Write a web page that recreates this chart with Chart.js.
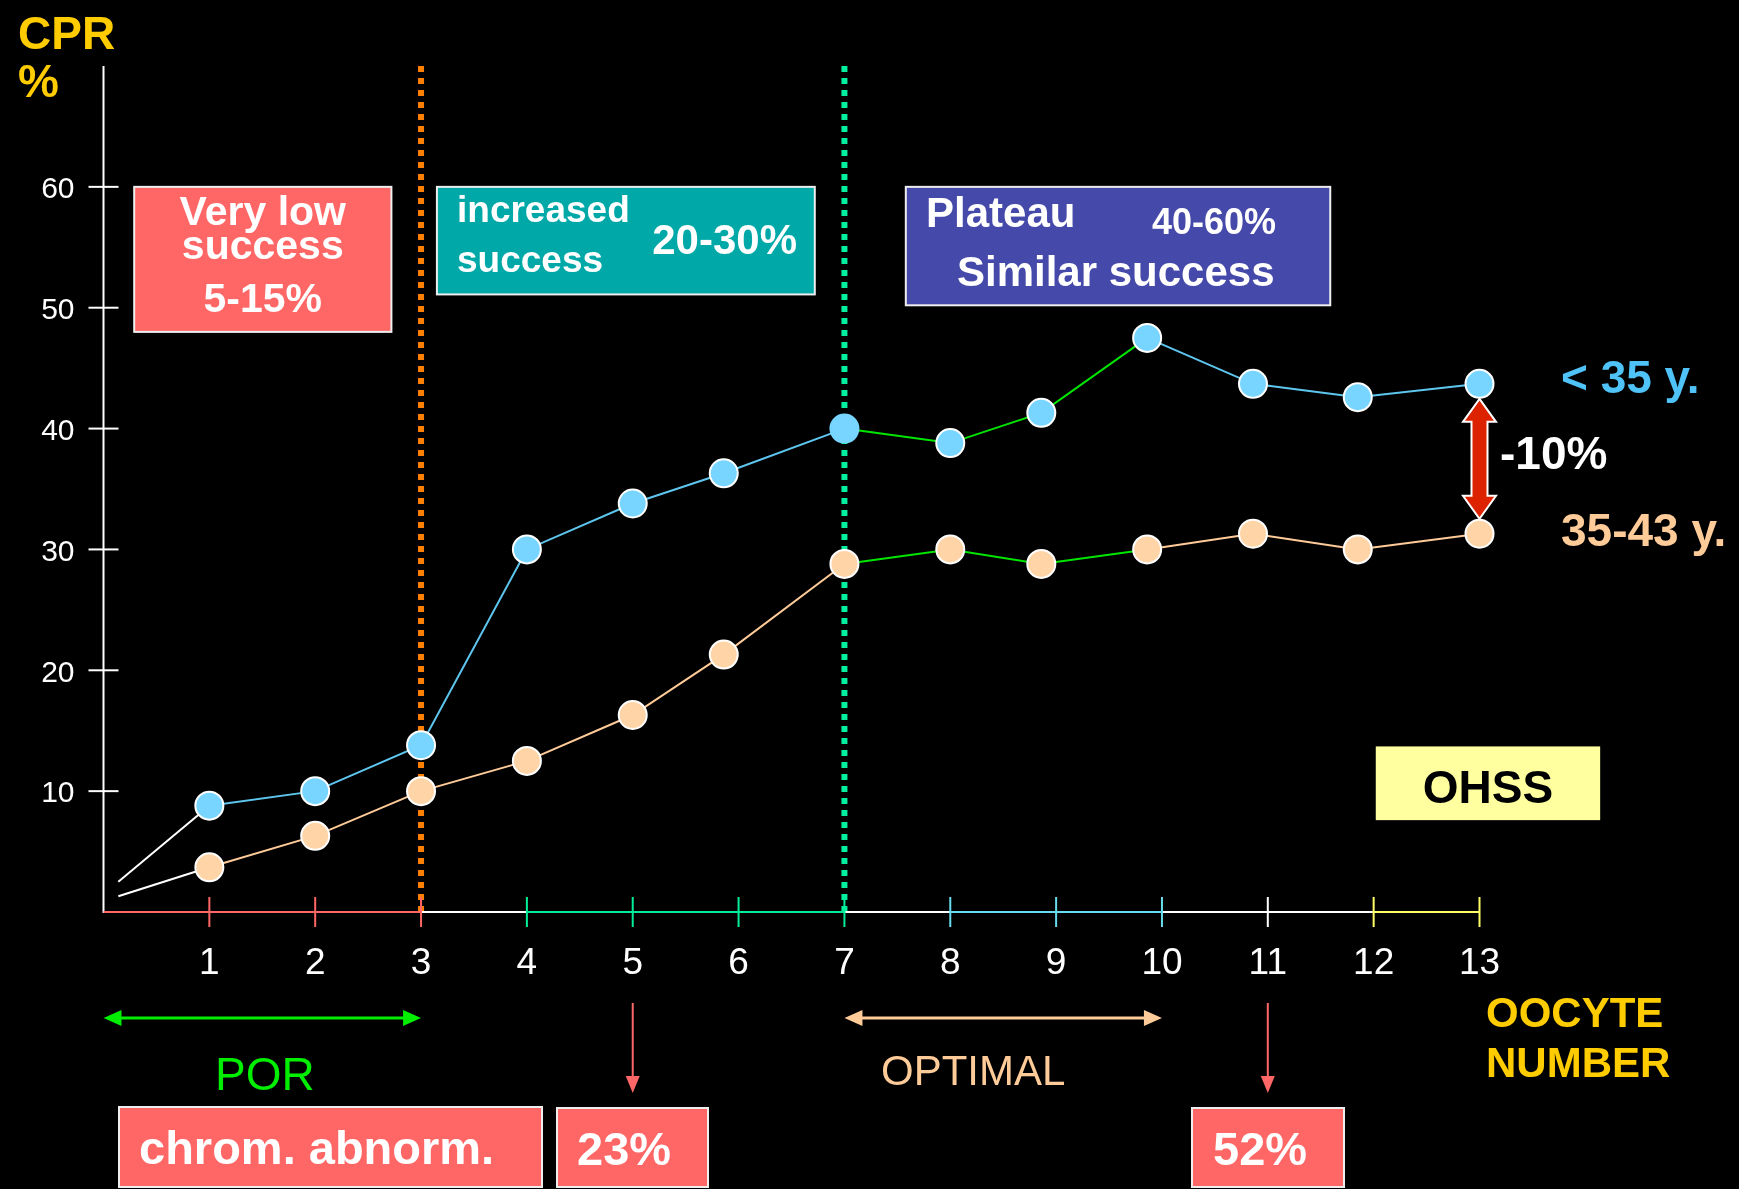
<!DOCTYPE html>
<html>
<head>
<meta charset="utf-8">
<title>CPR by oocyte number</title>
<style>
  html, body { margin: 0; padding: 0; background: #000; }
  #wrap { width: 1739px; height: 1189px; position: relative; }
  canvas { display: block; }
</style>
<script src="https://cdn.jsdelivr.net/npm/chart.js@4.4.1/dist/chart.umd.min.js"></script>
</head>
<body>
<div id="wrap"><canvas id="cpr" width="1739" height="1189"></canvas></div>
<script>
// Clinical pregnancy rate (%) per number of oocytes retrieved, by age group
const oocyteNumber = [1, 2, 3, 4, 5, 6, 7, 8, 9, 10, 11, 12, 13];
// horizontal placement of each marker on the oocyte axis
const markerX      = [1, 2, 3, 4, 5, 5.86, 7, 8, 8.86, 9.86, 10.86, 11.85, 13];
const cprUnder35   = [8.8, 10.0, 13.8, 30.0, 33.8, 36.3, 40.0, 38.8, 41.3, 47.5, 43.7, 42.6, 43.7];
const cpr35to43    = [3.7, 6.3, 10.0, 12.5, 16.3, 21.3, 28.8, 30.0, 28.8, 30.0, 31.3, 30.0, 31.3];

// trend lines run in from near the origin
const trendStartX = 0.14;
const trendStartUnder35 = 2.5;
const trendStart35to43 = 1.3;

const xTickLabels = [1, 2, 3, 4, 5, 6, 7, 8, 9, 10, 11, 12, 13];
const yTickLabels = [10, 20, 30, 40, 50, 60];
const xRange = [0, 13];
const yRange = [0, 70];

// oocyte-number thresholds
const porLimit = 3;
const optimalStart = 7;
const optimalEnd = 10;
const plateauStart = 7;
const plateauEnd = 10;

const FONT = "'Liberation Sans', Arial, Helvetica, sans-serif";
const BLUE_FILL = '#78D5FF';
const BLUE_LINE = '#5EC6EE';
const PEACH_FILL = '#FFD5A8';
const PEACH_LINE = '#FFCC99';
const TREND_GREEN = '#00E600';

function seriesData(startY, values) {
  const pts = [{ x: trendStartX, y: startY }];
  markerX.forEach((x, i) => pts.push({ x: x, y: values[i] }));
  return pts;
}

function segmentColor(base) {
  return ctx => {
    const i = ctx.p0DataIndex;
    if (i === 0) return '#FFFFFF';
    const n = oocyteNumber[i - 1];
    if (n >= plateauStart && n < plateauEnd) return TREND_GREEN;
    return base;
  };
}

function pointRadii() { return [0].concat(oocyteNumber.map(() => 14)); }

const under35 = {
  label: '< 35 y.',
  data: seriesData(trendStartUnder35, cprUnder35),
  borderColor: BLUE_LINE,
  borderWidth: 2,
  segment: { borderColor: segmentColor(BLUE_LINE) },
  pointRadius: pointRadii(),
  pointBackgroundColor: BLUE_FILL,
  pointBorderColor: [BLUE_FILL].concat(oocyteNumber.map(n => n === 7 ? BLUE_FILL : '#FFFFFF')),
  pointBorderWidth: 2,
  clip: false,
  tension: 0
};
const over35 = {
  label: '35-43 y.',
  data: seriesData(trendStart35to43, cpr35to43),
  borderColor: PEACH_LINE,
  borderWidth: 2,
  segment: { borderColor: segmentColor(PEACH_LINE) },
  pointRadius: pointRadii(),
  pointBackgroundColor: PEACH_FILL,
  pointBorderColor: '#FFFFFF',
  pointBorderWidth: 2,
  clip: false,
  tension: 0
};

// coloured stretches of the oocyte axis
const axisSegments = [
  [0, 3, '#FF6666'], [3, 4, '#FFFFFF'], [4, 7, '#00EE99'], [7, 8, '#FFFFFF'],
  [8, 10, '#66DDEE'], [10, 12, '#FFFFFF'], [12, 13, '#FFFF66']
];
function tickColor(n) {
  if (n <= 3) return '#FF6666';
  if (n <= 7) return '#00EE99';
  if (n <= 10) return '#66DDEE';
  if (n <= 11) return '#FFFFFF';
  return '#FFFF66';
}

function text(ctx, s, x, y, size, color, weight, align) {
  ctx.font = (weight || 'bold') + ' ' + size + 'px ' + FONT;
  ctx.fillStyle = color;
  ctx.textAlign = align || 'left';
  ctx.textBaseline = 'alphabetic';
  ctx.fillText(s, x, y);
}
function rect(ctx, x0, y0, x1, y1, fill, stroke) {
  ctx.fillStyle = fill;
  ctx.fillRect(x0, y0, x1 - x0, y1 - y0);
  if (stroke) {
    ctx.strokeStyle = stroke;
    ctx.lineWidth = 2;
    ctx.strokeRect(x0, y0, x1 - x0, y1 - y0);
  }
}
function head(ctx, x, y, dx, dy, len, half, color) {
  // triangle pointing along (dx, dy) with its tip at (x, y)
  const px = -dy, py = dx;
  ctx.fillStyle = color;
  ctx.beginPath();
  ctx.moveTo(x, y);
  ctx.lineTo(x - dx * len + px * half, y - dy * len + py * half);
  ctx.lineTo(x - dx * len - px * half, y - dy * len - py * half);
  ctx.closePath();
  ctx.fill();
}
function hArrow(ctx, x0, x1, y, color, width) {
  ctx.strokeStyle = color;
  ctx.lineWidth = width;
  ctx.beginPath();
  ctx.moveTo(x0 + 10, y);
  ctx.lineTo(x1 - 10, y);
  ctx.stroke();
  head(ctx, x0, y, -1, 0, 18, 8, color);
  head(ctx, x1, y, 1, 0, 18, 8, color);
}
function downArrow(ctx, x, y0, y1, color) {
  ctx.strokeStyle = color;
  ctx.lineWidth = 2;
  ctx.beginPath();
  ctx.moveTo(x, y0);
  ctx.lineTo(x, y1 - 12);
  ctx.stroke();
  head(ctx, x, y1, 0, 1, 17, 7, color);
}

const decorations = {
  id: 'decorations',
  beforeDatasetsDraw(chart) {
    const ctx = chart.ctx;
    const xs = chart.scales.x, ys = chart.scales.y;
    const top = ys.getPixelForValue(yRange[1]);
    const base = ys.getPixelForValue(yRange[0]);
    ctx.save();
    // dotted threshold guides
    [[porLimit, '#FF8000'], [plateauStart, '#00F0A0']].forEach(([v, c]) => {
      const x = xs.getPixelForValue(v);
      ctx.strokeStyle = c;
      ctx.lineWidth = 6;
      ctx.setLineDash([6, 6]);
      ctx.beginPath();
      ctx.moveTo(x, top);
      ctx.lineTo(x, base);
      ctx.stroke();
    });
    ctx.setLineDash([]);
    // value axis
    const x0 = xs.getPixelForValue(xRange[0]);
    ctx.strokeStyle = '#FFFFFF';
    ctx.lineWidth = 2;
    ctx.beginPath();
    ctx.moveTo(x0, top);
    ctx.lineTo(x0, base + 1);
    ctx.stroke();
    yTickLabels.forEach(v => {
      const y = ys.getPixelForValue(v);
      ctx.beginPath();
      ctx.moveTo(x0 - 15, y);
      ctx.lineTo(x0 + 15, y);
      ctx.stroke();
    });
    // oocyte axis
    axisSegments.forEach(([a, b, c]) => {
      ctx.strokeStyle = c;
      ctx.beginPath();
      ctx.moveTo(xs.getPixelForValue(a), base);
      ctx.lineTo(xs.getPixelForValue(b), base);
      ctx.stroke();
    });
    xTickLabels.forEach(n => {
      const x = xs.getPixelForValue(n);
      ctx.strokeStyle = tickColor(n);
      ctx.beginPath();
      ctx.moveTo(x, base - 15);
      ctx.lineTo(x, base + 15);
      ctx.stroke();
    });
    ctx.restore();
  },
  afterDraw(chart) {
    const ctx = chart.ctx;
    const xs = chart.scales.x, ys = chart.scales.y;
    const X = v => xs.getPixelForValue(v);
    const Y = v => ys.getPixelForValue(v);
    ctx.save();

    // value-axis title
    text(ctx, 'CPR', 18, 49, 46, '#FFCC00');
    text(ctx, '%', 18, 97, 46, '#FFCC00');

    // phase boxes
    rect(ctx, X(0.29), Y(60), X(2.72), Y(48), '#FF6666', '#EEEEEE');
    const c1 = (X(0.29) + X(2.72)) / 2;
    text(ctx, 'Very low', c1, 225, 41, '#FFFFFF', 'bold', 'center');
    text(ctx, 'success', c1, 259, 41, '#FFFFFF', 'bold', 'center');
    text(ctx, '5-15%', c1, 312, 41, '#FFFFFF', 'bold', 'center');

    rect(ctx, X(3.15), Y(60), X(6.72), Y(51.1), '#00A8A8', '#EEEEEE');
    text(ctx, 'increased', 457, 222, 37, '#FFFFFF');
    text(ctx, 'success', 457, 272, 37, '#FFFFFF');
    text(ctx, '20-30%', 797, 254, 42, '#FFFFFF', 'bold', 'right');

    rect(ctx, X(7.58), Y(60), X(11.59), Y(50.2), '#4549A9', '#EEEEEE');
    text(ctx, 'Plateau', 926, 227, 42, '#FFFFFF');
    text(ctx, '40-60%', 1152, 234, 36, '#FFFFFF');
    text(ctx, 'Similar success', 957, 286, 42, '#FFFFFF');

    rect(ctx, X(12.02), Y(13.7), X(14.14), Y(7.6), '#FFFFA0', null);
    text(ctx, 'OHSS', (X(12.02) + X(14.14)) / 2, 803, 46, '#000000', 'bold', 'center');

    // age-group gap arrow
    const last = oocyteNumber.length - 1;
    const ax = X(markerX[last]);
    const ya = Y(cprUnder35[last]) + 15;
    const yb = Y(cpr35to43[last]) - 15;
    const sh = 8, hw = 16.5, hl = 23;
    ctx.beginPath();
    ctx.moveTo(ax, ya);
    ctx.lineTo(ax + hw, ya + hl);
    ctx.lineTo(ax + sh, ya + hl);
    ctx.lineTo(ax + sh, yb - hl);
    ctx.lineTo(ax + hw, yb - hl);
    ctx.lineTo(ax, yb);
    ctx.lineTo(ax - hw, yb - hl);
    ctx.lineTo(ax - sh, yb - hl);
    ctx.lineTo(ax - sh, ya + hl);
    ctx.lineTo(ax - hw, ya + hl);
    ctx.closePath();
    ctx.fillStyle = '#DD2200';
    ctx.fill();
    ctx.strokeStyle = '#FFFFFF';
    ctx.lineWidth = 2;
    ctx.stroke();
    text(ctx, '-10%', 1500, 469, 46, '#FFFFFF');

    // series labels
    text(ctx, '< 35 y.', 1561, 393, 46, '#4FC3F7');
    text(ctx, '35-43 y.', 1561, 546, 46, '#FFCC99');

    // ranges under the axis
    hArrow(ctx, X(0), X(porLimit), 1018, '#00EE00', 3);
    text(ctx, 'POR', 215, 1090, 46, '#00EE00', 'normal');
    hArrow(ctx, X(optimalStart), X(optimalEnd), 1018, '#FFCC99', 3);
    text(ctx, 'OPTIMAL', 881, 1085, 42, '#FFCC99', 'normal');

    text(ctx, 'OOCYTE', 1486, 1027, 42, '#FFCC00');
    text(ctx, 'NUMBER', 1486, 1077, 42, '#FFCC00');

    // chromosomal abnormality rates
    downArrow(ctx, X(5), 1003, 1093, '#FF6666');
    downArrow(ctx, X(11), 1003, 1093, '#FF6666');
    rect(ctx, 119, 1107, 542, 1187, '#FF6666', '#EEEEEE');
    text(ctx, 'chrom. abnorm.', 139, 1164, 47, '#FFFFFF');
    rect(ctx, 557, 1108, 708, 1187, '#FF6666', '#EEEEEE');
    text(ctx, '23%', 577, 1165, 47, '#FFFFFF');
    rect(ctx, 1192, 1108, 1344, 1187, '#FF6666', '#EEEEEE');
    text(ctx, '52%', 1213, 1165, 47, '#FFFFFF');

    ctx.restore();
  }
};

new Chart(document.getElementById('cpr'), {
  type: 'line',
  data: { datasets: [under35, over35] },
  options: {
    responsive: false,
    animation: false,
    devicePixelRatio: 1,
    layout: { padding: { top: 66, right: 259.5, bottom: 0, left: 0 } },
    plugins: { legend: { display: false }, tooltip: { enabled: false } },
    scales: {
      x: {
        type: 'linear',
        min: xRange[0],
        max: xRange[1],
        grid: { display: false, drawTicks: false },
        border: { display: false },
        ticks: {
          stepSize: 1,
          autoSkip: false,
          maxRotation: 0,
          padding: 30,
          color: '#FFFFFF',
          font: { family: FONT, size: 37 },
          callback: v => xTickLabels.includes(v) ? String(v) : ''
        },
        afterFit: s => { s.height = 277; }
      },
      y: {
        type: 'linear',
        min: yRange[0],
        max: yRange[1],
        grid: { display: false, drawTicks: false },
        border: { display: false },
        ticks: {
          stepSize: 10,
          padding: 29,
          labelOffset: 3,
          color: '#FFFFFF',
          font: { family: FONT, size: 30 },
          callback: v => yTickLabels.includes(v) ? String(v) : ''
        },
        afterFit: s => { s.width = 103.5; }
      }
    }
  },
  plugins: [decorations]
});
</script>
</body>
</html>
